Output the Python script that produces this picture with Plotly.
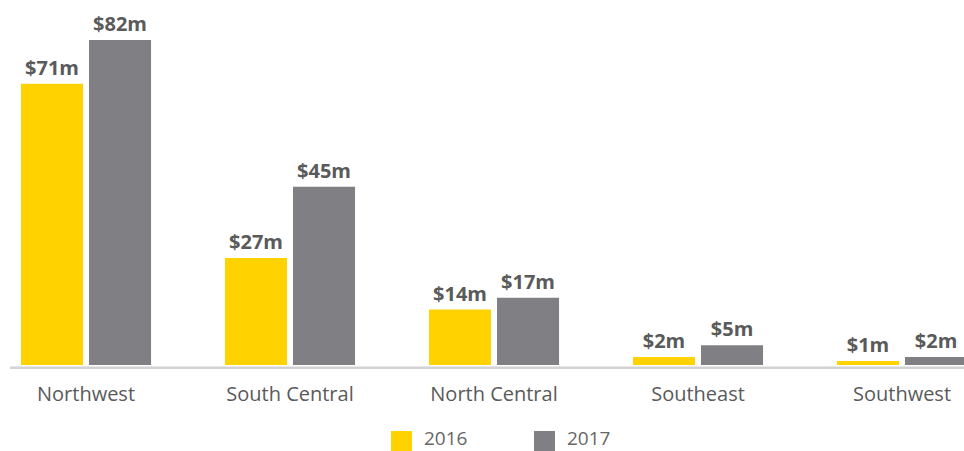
import plotly.graph_objects as go

regions = ["Northwest", "South Central", "North Central", "Southeast", "Southwest"]
values_2016 = [71, 27, 14, 2, 1]
values_2017 = [82, 45, 17, 5, 2]
series_names = ["2016", "2017"]

YELLOW = "#FFD200"
GREY = "#808084"
TEXT = "#5a5a5a"
FONT = "Open Sans"

W, H = 964, 451
plot_bottom_px = 371
px_per_unit = 3.963
cat_px = 204
first_center_px = 86

fig = go.Figure()
for name, vals, col in [(series_names[0], values_2016, YELLOW), (series_names[1], values_2017, GREY)]:
    fig.add_trace(go.Bar(
        x=regions, y=vals, name=name, marker=dict(color=col, line=dict(width=0)),
        text=[f"${v}m" for v in vals], textposition="outside",
        textfont=dict(family=FONT, size=20, color=TEXT, weight="bold"),
        cliponaxis=False, showlegend=False, hoverinfo="skip",
    ))

y_min = -(plot_bottom_px - 365) / px_per_unit
y_max = y_min + plot_bottom_px / px_per_unit
x_min = -first_center_px / cat_px
x_max = (W - first_center_px) / cat_px

fig.update_layout(
    width=W, height=H,
    margin=dict(l=0, r=0, t=0, b=H - plot_bottom_px, pad=0),
    paper_bgcolor="white", plot_bgcolor="white",
    barmode="group", bargap=0.333, bargroupgap=0.088,
    xaxis=dict(range=[x_min, x_max], showgrid=False, zeroline=False, showline=False,
               ticks="", tickfont=dict(family=FONT, size=20, color=TEXT),
               ticklabelstandoff=9),
    yaxis=dict(range=[y_min, y_max], visible=False, showgrid=False, zeroline=False),
)

# baseline
fig.add_shape(type="line", xref="paper", yref="y", x0=10 / W, x1=1, y0=-0.7, y1=-0.7,
              line=dict(color="#d2d2d2", width=2.5), layer="above")

# custom legend
def py(p):
    return (plot_bottom_px - p) / plot_bottom_px

legend_items = [(series_names[0], YELLOW, 391), (series_names[1], GREY, 534)]
for name, col, x0 in legend_items:
    fig.add_shape(type="rect", xref="paper", yref="paper",
                  x0=x0 / W, x1=(x0 + 21) / W, y0=py(451), y1=py(431),
                  fillcolor=col, line=dict(width=0))
    fig.add_annotation(xref="paper", yref="paper", x=(x0 + 31) / W, y=py(438),
                       xanchor="left", yanchor="middle", text=name, showarrow=False,
                       font=dict(family=FONT, size=19, color="#666666"))

fig.write_html(
    "out.html",
    config={"displayModeBar": False},
    post_script="document.body.style.margin='0';document.body.style.overflow='hidden';",
)
